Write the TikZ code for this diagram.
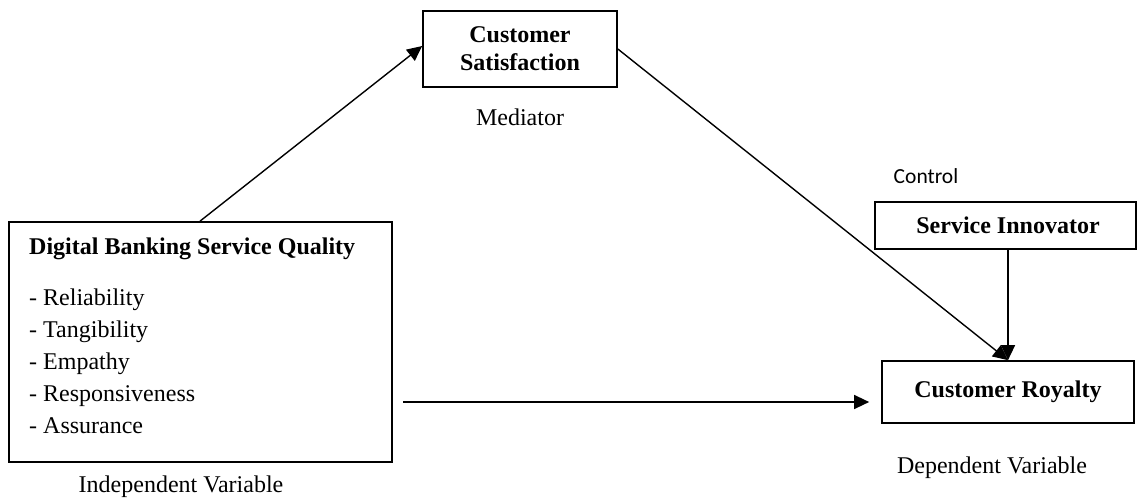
\documentclass[tikz,border=0pt]{standalone}
\usepackage{fontspec}
\setmainfont{Liberation Serif}
\newfontfamily\ctlfont{Carlito}
\usetikzlibrary{arrows.meta,calc}

\begin{document}
\begin{tikzpicture}[x=1pt,y=-1pt,
  every node/.style={font=\fontsize{24}{28}\selectfont},
  varbox/.style={draw=black,line width=1.7pt,rectangle,inner sep=0pt,
    align=center,font=\fontsize{24}{28}\selectfont\bfseries},
  link/.style={draw=black,line width=1.4pt,
    -{Triangle[length=15pt,width=14pt]}},
  caption/.style={inner sep=0pt,anchor=center},
  itemtext/.style={inner sep=0pt,anchor=base west}
]
\useasboundingbox (0,0) rectangle (1138,501);

% variable boxes
\node[varbox,minimum width=383pt,minimum height=240pt] (dbsq) at (200.5,342) {};
\node[varbox,minimum width=194pt,minimum height=76pt] (cs) at (520,49)
  {\raisebox{-2pt}{\parbox{180pt}{\centering Customer\\Satisfaction}}};
\node[varbox,minimum width=261pt,minimum height=47pt] (si) at (1005.5,225.5)
  {\hspace*{5pt}Service Innovator};
\node[varbox,minimum width=252pt,minimum height=62pt] (cr) at (1008,392)
  {\raisebox{3pt}{Customer Royalty}};

% contents of the independent variable box
\node[itemtext,font=\fontsize{24}{28}\selectfont\bfseries] (title) at (29,254)
  {Digital Banking Service Quality};
\foreach \name/\txt [count=\i from 0] in
  {rel/Reliability,tan/Tangibility,emp/Empathy,res/Responsiveness,ass/Assurance}
  \node[itemtext] (\name) at (29,305+32*\i) {- \txt};

% role captions
\node[caption] (medlbl) at (520,117) {Mediator};
\node[caption,font=\fontsize{21.5}{26}\ctlfont] (ctllbl) at (926,176) {Control};
\node[caption] (indlbl) at (181,487) {Independent Variable};
\node[caption] (deplbl) at (992,468) {Dependent Variable};

% relations
\coordinate (hstart) at (403,402);
\draw[link] ([xshift=-0.5pt]dbsq.north) -- ([yshift=3pt]cs.west);
\draw[link] (cs.east) -- (cr.north);
\draw[link] (cr.north |- si.south) -- (cr.north);
\draw[link] (hstart) -- ([xshift=-12pt]hstart -| cr.west);
\end{tikzpicture}
\end{document}
